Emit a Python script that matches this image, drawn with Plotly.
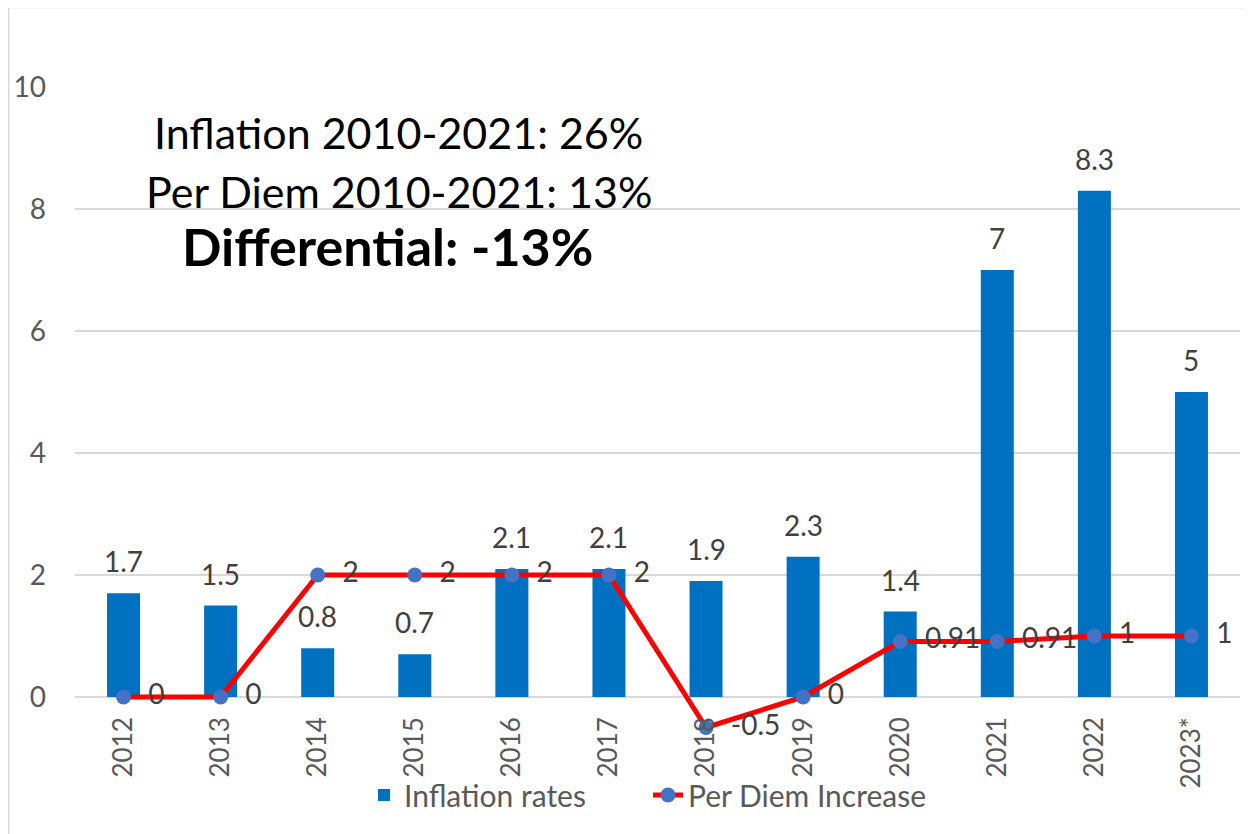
import plotly.graph_objects as go

years = ["2012", "2013", "2014", "2015", "2016", "2017", "2018", "2019", "2020", "2021", "2022", "2023*"]
inflation = [1.7, 1.5, 0.8, 0.7, 2.1, 2.1, 1.9, 2.3, 1.4, 7, 8.3, 5]
per_diem = [0, 0, 2, 2, 2, 2, -0.5, 0, 0.91, 0.91, 1, 1]
y_ticks = [-2, 0, 2, 4, 6, 8, 10]
box_lines = ["Inflation 2010-2021: 26%", "Per Diem 2010-2021: 13%", "Differential: -13%"]

FONT = "Lato"
OFF = 8  # page body margin in the browser
W, H = 1254 - OFF, 834 - OFF
ML, MR, MT, MB = 75 - OFF, 14, 87 - OFF, 15
PW, PH = W - ML - MR, H - MT - MB
Y_MIN, Y_MAX = -2, 10


def px_x(px):
    # page pixel -> paper x
    return (px - OFF - ML) / PW


def px_y(py):
    # page pixel -> paper y
    return (H + OFF - MB - py) / PH


fig = go.Figure()
fig.add_trace(go.Bar(
    x=years, y=inflation, name="Inflation rates",
    marker=dict(color="#0070C0", line=dict(width=0)),
    width=0.34,
))
fig.add_trace(go.Scatter(
    x=years, y=per_diem, name="Per Diem Increase",
    mode="lines+markers+text",
    line=dict(color="#FF0000", width=5),
    marker=dict(color="#4472C4", size=15),
    text=[f"\u00a0\u00a0{v:g}" for v in per_diem],
    textposition="middle right",
    textfont=dict(family=FONT, size=28, color="#404040"),
    cliponaxis=False,
))

annotations = []
for i, v in enumerate(inflation):
    annotations.append(dict(
        x=i, y=v, xref="x", yref="y", text=f"{v:g}", showarrow=False,
        yanchor="bottom", yshift=13,
        font=dict(family=FONT, size=28, color="#404040"),
    ))

box_x = [398, 399, 387]
box_y = [132, 191, 246]
box_size = [43, 43, 52]
for txt, bx, by, sz in zip(box_lines, box_x, box_y, box_size):
    annotations.append(dict(
        x=px_x(bx), y=px_y(by), xref="paper", yref="paper",
        text=(f"<b>{txt}</b>" if txt.startswith("Differential") else txt),
        showarrow=False, xanchor="center", yanchor="middle",
        font=dict(family=FONT, size=sz, color="#000000"),
    ))

fig.update_layout(
    width=W, height=H,
    margin=dict(l=ML, r=MR, t=MT, b=MB, autoexpand=False),
    paper_bgcolor="white", plot_bgcolor="white",
    font=dict(family=FONT, color="#595959"),
    showlegend=True,
    legend=dict(
        orientation="h", x=px_x(364), y=px_y(795), xanchor="left", yanchor="middle",
        font=dict(family=FONT, size=30, color="#595959"),
        bgcolor="rgba(0,0,0,0)", itemwidth=30, entrywidth=239,
    ),
    annotations=annotations,
    shapes=[dict(
        type="rect", xref="paper", yref="paper",
        x0=px_x(8.75), x1=1.2, y0=-0.2, y1=px_y(7.5),
        line=dict(color="#D9D9D9", width=1.5), fillcolor="rgba(0,0,0,0)",
        layer="below",
    )],
)

# category axis crosses the value axis at 0
fig.update_xaxes(
    type="category", range=[-0.5, len(years) - 0.5],
    anchor="free", position=(0 - Y_MIN) / (Y_MAX - Y_MIN),
    tickangle=-90, showgrid=False, showline=False, ticks="",
    tickfont=dict(family=FONT, size=26, color="#595959"),
    ticklabelstandoff=14, zeroline=False, automargin=False,
)
fig.update_yaxes(
    range=[Y_MIN, Y_MAX], tickvals=y_ticks,
    showgrid=True, gridcolor="#D9D9D9", gridwidth=1.5,
    zeroline=True, zerolinecolor="#D9D9D9", zerolinewidth=1.5,
    showline=False, ticks="",
    tickfont=dict(family=FONT, size=28, color="#595959"),
    ticklabelstandoff=28, automargin=False,
)

fig.write_html("out.html")
